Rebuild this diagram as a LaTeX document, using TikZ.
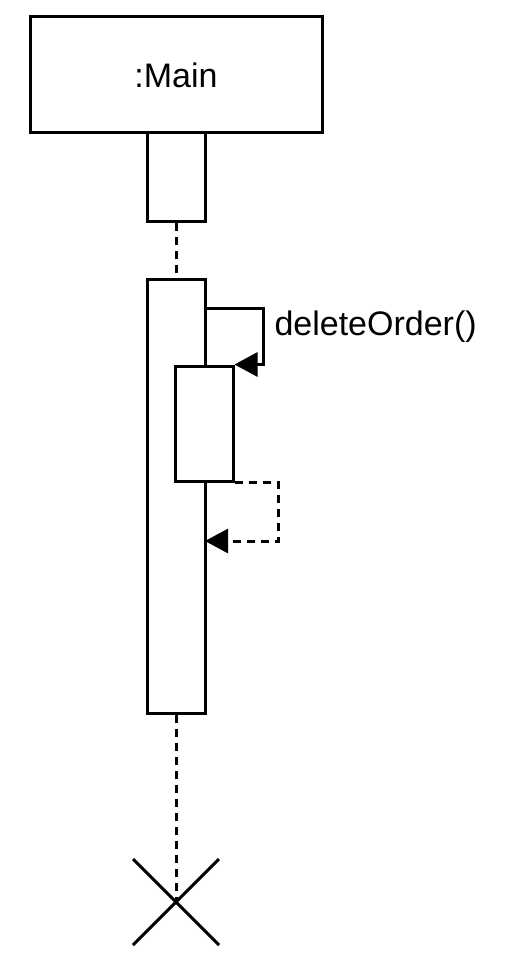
\documentclass[tikz,border=0pt]{standalone}
\usepackage{fontspec}
\setmainfont{Liberation Sans}
\usetikzlibrary{arrows.meta,positioning}

\begin{document}
\begin{tikzpicture}[x=0.5pt,y=-0.5pt,line width=1.5pt,
    lifebox/.style={draw,fill=white,inner sep=0pt,font=\fontsize{17}{20}\selectfont},
    actbox/.style={draw,fill=white,inner sep=0pt,minimum width=29pt},
    lifeline/.style={dash pattern=on 4pt off 3pt},
    callmsg/.style={-{Triangle[length=11.5pt,width=12pt]}},
    retmsg/.style={-{Triangle[length=11.5pt,width=12pt]},dash pattern=on 4pt off 3pt}]
\useasboundingbox (0,0) rectangle (505,974);
\node[lifebox,minimum width=146pt,minimum height=58pt] (main) at (176,75) {:Main};
\node[actbox,minimum height=44pt] (act1) at (176,177) {};
\node[actbox,minimum height=217pt] (act2) at (176,496) {};
\node[actbox,minimum height=57.5pt] (act3) at (204,423.5) {};
\coordinate (kill) at (176,902);
\coordinate (callstart) at (205,308);
\coordinate (retend) at (205,541);
\draw[lifeline] (act1.south) -- (act2.north);
\draw[lifeline] (act2.south) -- (kill);
\draw (kill) ++(-43,-43) -- ++(86,86);
\draw (kill) ++(43,-43) -- ++(-86,86);
\draw[callmsg] (callstart) -- ++(58,0) |- (act3.north east);
\node[anchor=base west,font=\fontsize{17}{20}\selectfont,inner sep=0pt] (callname) at (273,335) {deleteOrder()};
\draw[retmsg] (act3.south east) -- ++(44,0) |- (retend);
\end{tikzpicture}
\end{document}
